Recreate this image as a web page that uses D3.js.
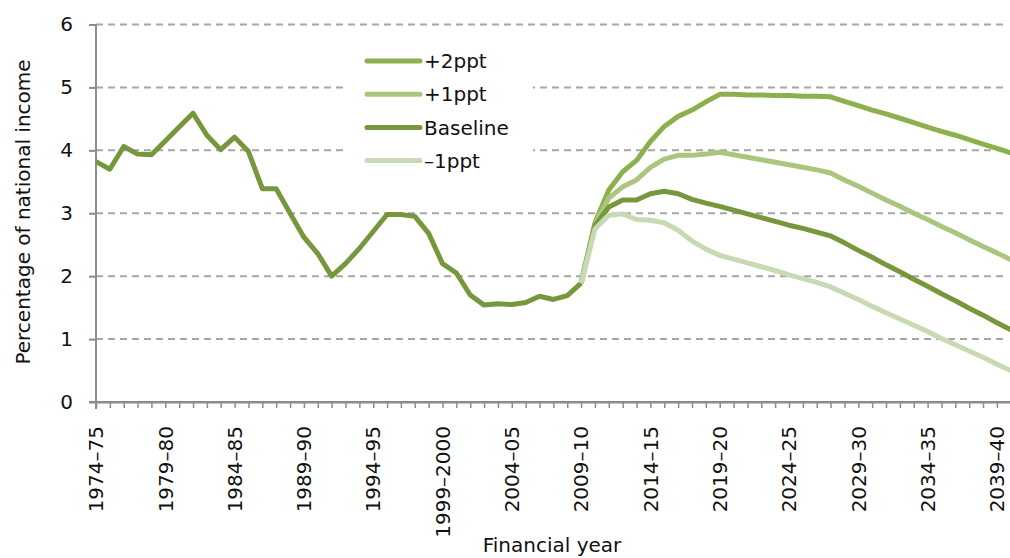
<!DOCTYPE html>
<html lang="en">
<head>
<meta charset="utf-8">
<script src="https://cdn.jsdelivr.net/npm/d3@7"></script>
<style>
  body { margin: 0; background: #fff; }
  text { font-family: "DejaVu Sans", sans-serif; fill: #111; }
</style>
</head>
<body>
<svg id="chart" width="1010" height="558"></svg>

<script>
  // financial years 1974-75 .. 2040-41 (last one sits on the right edge)
  var startYears = d3.range(1974, 2041)
  var years = startYears.map(function(y) {
    var e = String(y + 1)
    return y + '\u2013' + (y + 1 === 2000 ? e : e.slice(2))
  })
  var labelEvery = 5

  // outturn 1974-75 .. 2009-10
  var outturn = [3.82, 3.70, 4.06, 3.94, 3.93, 4.15, 4.37, 4.59, 4.24, 4.01,
                 4.21, 3.98, 3.39, 3.39, 3.00, 2.62, 2.36, 2.00, 2.20, 2.44,
                 2.71, 2.98, 2.98, 2.95, 2.68, 2.20, 2.05, 1.70, 1.54, 1.56,
                 1.55, 1.58, 1.68, 1.63, 1.69, 1.89]

  // projections 2009-10 .. 2040-41
  var plus2 = [1.89, 2.85, 3.37, 3.66, 3.84, 4.14, 4.38, 4.54, 4.64, 4.77,
               4.89, 4.89, 4.88, 4.88, 4.87, 4.87, 4.86, 4.86, 4.85, 4.78,
               4.71, 4.64, 4.58, 4.51, 4.44, 4.37, 4.30, 4.24, 4.17, 4.10,
               4.03, 3.96]
  var plus1 = [1.89, 2.83, 3.24, 3.42, 3.53, 3.73, 3.86, 3.92, 3.92, 3.94,
               3.97, 3.93, 3.89, 3.85, 3.81, 3.77, 3.73, 3.69, 3.64, 3.53,
               3.43, 3.32, 3.21, 3.11, 3.00, 2.90, 2.79, 2.69, 2.58, 2.47,
               2.37, 2.26]
  var baseline = [1.89, 2.80, 3.10, 3.21, 3.21, 3.31, 3.35, 3.31, 3.22, 3.16,
                  3.11, 3.05, 2.99, 2.93, 2.87, 2.81, 2.76, 2.70, 2.64, 2.53,
                  2.41, 2.30, 2.18, 2.07, 1.95, 1.84, 1.72, 1.61, 1.49, 1.38,
                  1.26, 1.15]
  var minus1 = [1.89, 2.75, 2.97, 2.99, 2.90, 2.89, 2.85, 2.73, 2.56, 2.43,
                2.33, 2.27, 2.21, 2.15, 2.09, 2.02, 1.96, 1.90, 1.83, 1.73,
                1.63, 1.52, 1.42, 1.32, 1.22, 1.12, 1.01, 0.91, 0.81, 0.71,
                0.60, 0.50]
  var projStart = 35

  var yTicks = [0, 1, 2, 3, 4, 5, 6]

  var series = [
    {name: '+2ppt',        values: plus2,    color: '#8db04e'},
    {name: '+1ppt',        values: plus1,    color: '#aac67e'},
    {name: 'Baseline',     values: baseline, color: '#77973d'},
    {name: '\u20131ppt',   values: minus1,   color: '#c7dab3'}
  ]

  var svg = d3.select('#chart')

  var x = d3.scalePoint()
            .domain(years)
            .range([96, 96 + 66 * 13.86])
  var y = d3.scaleLinear()
            .domain([0, 6])
            .range([402, 24.5])

  // gridlines
  svg.append('g')
     .selectAll('line')
     .data(yTicks.filter(function(d) { return d > 0 }))
     .enter()
     .append('line')
     .attr('x1', 96)
     .attr('x2', 1005)
     .attr('y1', function(d) { return y(d) })
     .attr('y2', function(d) { return y(d) })
     .attr('stroke', '#a6a6a6')
     .attr('stroke-width', 2)
     .attr('stroke-dasharray', '7,5')

  // y axis
  var yAxis = svg.append('g')
                 .attr('transform', 'translate(96,0)')
                 .call(d3.axisLeft(y).tickValues(yTicks).tickFormat(d3.format('d')).tickSize(7).tickPadding(16))
  yAxis.select('.domain').remove()
  yAxis.selectAll('line').attr('stroke', '#8c8c8c').attr('stroke-width', 2)
  yAxis.selectAll('text').attr('font-size', 20).attr('font-family', '"DejaVu Sans", sans-serif').attr('fill', '#111')
  svg.append('line')
     .attr('x1', 96).attr('x2', 96)
     .attr('y1', 24).attr('y2', 409)
     .attr('stroke', '#8c8c8c').attr('stroke-width', 2)

  // x axis
  var xAxis = svg.append('g')
                 .attr('transform', 'translate(0,402)')
                 .call(d3.axisBottom(x).tickSize(6).tickSizeOuter(0).tickFormat(''))
  xAxis.select('.domain').attr('stroke', '#8c8c8c').attr('stroke-width', 2)
  xAxis.selectAll('line').attr('stroke', '#8c8c8c').attr('stroke-width', 1.5)
  svg.append('line')
     .attr('x1', 89).attr('x2', 1010)
     .attr('y1', 402).attr('y2', 402)
     .attr('stroke', '#8c8c8c').attr('stroke-width', 2)

  svg.append('g')
     .selectAll('text')
     .data(years.filter(function(d, i) { return i % labelEvery === 0 && i < 66 }))
     .enter()
     .append('text')
     .attr('transform', function(d) { return 'translate(' + x(d) + ',426) rotate(-90)' })
     .attr('dy', '0.36em')
     .attr('text-anchor', 'end')
     .attr('font-size', 20)
     .text(function(d) { return d })

  // axis titles
  svg.append('text')
     .attr('transform', 'translate(23,212) rotate(-90)')
     .attr('dy', '0.36em')
     .attr('text-anchor', 'middle')
     .attr('font-size', 20)
     .text('Percentage of national income')
  svg.append('text')
     .attr('x', 552)
     .attr('y', 552)
     .attr('text-anchor', 'middle')
     .attr('font-size', 20)
     .text('Financial year')

  // legend box (hides the gridlines behind it)
  svg.append('rect')
     .attr('x', 343).attr('y', 36)
     .attr('width', 190).attr('height', 150)
     .attr('fill', '#fff')

  var line = d3.line()
               .x(function(d) { return x(years[d[0]]) })
               .y(function(d) { return y(d[1]) })

  svg.append('path')
     .datum(outturn.map(function(v, i) { return [i, v] }))
     .attr('d', line)
     .attr('fill', 'none')
     .attr('stroke', '#77973d')
     .attr('stroke-width', 5)
     .attr('stroke-linejoin', 'round')

  svg.append('g')
     .selectAll('path')
     .data(series)
     .enter()
     .append('path')
     .attr('d', function(s) { return line(s.values.map(function(v, i) { return [projStart + i, v] })) })
     .attr('fill', 'none')
     .attr('stroke', function(s) { return s.color })
     .attr('stroke-width', 5)
     .attr('stroke-linejoin', 'round')

  var legend = svg.append('g')
                  .selectAll('g')
                  .data(series)
                  .enter()
                  .append('g')
                  .attr('transform', function(d, i) { return 'translate(0,' + (61 + i * 33.2) + ')' })
  legend.append('line')
        .attr('x1', 367).attr('x2', 420)
        .attr('stroke', function(d) { return d.color })
        .attr('stroke-width', 5)
        .attr('stroke-linecap', 'round')
  legend.append('text')
        .attr('x', 424)
        .attr('dy', '0.36em')
        .attr('font-size', 20)
        .text(function(d) { return d.name })
</script>
</body>
</html>
